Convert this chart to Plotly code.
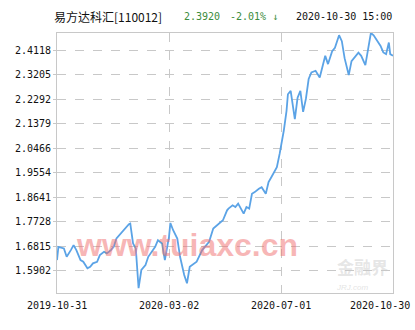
import plotly.graph_objects as go

# trading-day index (0 = 2019-10-31, 243 = 2020-10-30) and NAV values
day_index = [0, 1, 5, 7, 10, 12, 14, 17, 19, 22, 24, 26, 29, 31, 34, 36, 39, 41, 43, 46,
             48, 52, 53, 55, 57, 59, 61, 64, 66, 69, 71, 73, 76, 78, 81, 82, 84, 87, 89, 92,
             94, 96, 99, 101, 105, 107, 110, 113, 117, 120, 123, 124, 127, 129, 131, 135, 137, 139, 141, 143,
             146, 148, 151, 153, 155, 158, 159, 161, 164, 166, 167, 169, 172, 174, 176, 178, 180, 182, 184, 187,
             190, 194, 196, 199, 201, 204, 206, 208, 211, 213, 216, 218, 220, 223, 225, 227, 229, 232, 234, 236,
             238, 240, 241, 243]
nav = [1.6299, 1.6792, 1.6733, 1.6421, 1.6670, 1.6855, 1.6670, 1.6299, 1.6236, 1.5991,
       1.6050, 1.6176, 1.6236, 1.6484, 1.6607, 1.6548, 1.6670, 1.6792, 1.7104, 1.7290,
       1.7412, 1.7635, 1.7661, 1.6919, 1.6733, 1.5249, 1.5928, 1.6113, 1.6421, 1.6670,
       1.6792, 1.7041, 1.6919, 1.6299, 1.7164, 1.7683, 1.7412, 1.7104, 1.6421, 1.5742,
       1.5434, 1.6050, 1.6176, 1.6236, 1.6670, 1.6792, 1.6978, 1.7475, 1.7661, 1.7783,
       1.8154, 1.8218, 1.8340, 1.8277, 1.8403, 1.8032, 1.8277, 1.8218, 1.8774, 1.8834,
       1.8960, 1.9019, 1.8774, 1.9205, 1.9390, 1.9639, 1.9761, 2.0259, 2.1123, 2.1865,
       2.2485, 2.2608, 2.1557, 2.2359, 2.2608, 2.1828, 2.2311, 2.3053, 2.3302, 2.3361,
       2.3109, 2.3918, 2.3610, 2.4092, 2.4222, 2.4686, 2.4463, 2.3832, 2.3201, 2.3721,
       2.3906, 2.4036, 2.3918, 2.3572, 2.4166, 2.4770, 2.4686, 2.4415, 2.4289, 2.4044,
       2.3981, 2.4415, 2.3981, 2.3920]

y_ticks = [1.5902, 1.6815, 1.7728, 1.8641, 1.9554, 2.0466, 2.1379, 2.2292, 2.3205, 2.4118]
x_tick_pos = [0, 81, 162, 243]
x_tick_labels = ["2019-10-31", "2020-03-02", "2020-07-01", "2020-10-30"]

fund_name = "易方达科汇[110012]"
last_nav = "2.3920"
last_change = "-2.01% ↓"
last_time = "2020-10-30 15:00"

mono = "DejaVu Sans Mono"
W, H = 415, 330
L, R, T, B = 57, 22, 33, 37
pw = W - L - R
ph = H - T - B

def px(xp):
    return (xp - L) / pw

def py(yp):
    return (H - B - yp) / ph

fig = go.Figure()
fig.add_trace(go.Scatter(x=day_index, y=nav, mode="lines",
                         line=dict(color="#5ba3e6", width=1.8), hoverinfo="skip"))

fig.update_layout(
    width=W, height=H, margin=dict(l=L, r=R, t=T, b=B),
    paper_bgcolor="white", plot_bgcolor="white", showlegend=False,
    font=dict(family=mono, size=10, color="#111"),
    xaxis=dict(range=[0, 243], tickvals=x_tick_pos[1:3], ticktext=x_tick_labels[1:3],
               showgrid=True, gridcolor="#c8c8c8", griddash="dash", gridwidth=1,
               zeroline=False, showline=True, linecolor="#c8c8c8", mirror=True,
               ticks="", showticklabels=False),
    yaxis=dict(range=[1.507, 2.477], tickvals=y_ticks, ticktext=[f"{v:.4f}" for v in y_ticks],
               showgrid=True, gridcolor="#c8c8c8", griddash="dash", gridwidth=1,
               zeroline=False, showline=True, linecolor="#c8c8c8", mirror=True,
               ticks="outside", ticklen=3, tickcolor="#c8c8c8"),
)

# x tick labels (at the axis positions; the last one kept inside the canvas)
for i, (pos, lab) in enumerate(zip(x_tick_pos, x_tick_labels)):
    last = i == len(x_tick_pos) - 1
    fig.add_annotation(x=pos, xref="x", y=-0.02, yref="paper", text=lab, showarrow=False,
                       yanchor="top", xanchor="right" if last else "center",
                       xshift=19 if last else 0,
                       font=dict(family=mono, size=10, color="#111"))

# header
hy = py(16)
fig.add_annotation(x=px(164), y=hy, xref="paper", yref="paper",
                   text=fund_name, showarrow=False, xanchor="right", yanchor="middle",
                   font=dict(family="Noto Sans CJK SC", size=12, color="#111"))
fig.add_annotation(x=px(182), y=hy, xref="paper", yref="paper",
                   text=last_nav, showarrow=False, xanchor="left", yanchor="middle",
                   font=dict(family=mono, size=10, color="#3c8c3c"))
fig.add_annotation(x=px(228), y=hy, xref="paper", yref="paper",
                   text=last_change, showarrow=False, xanchor="left", yanchor="middle",
                   font=dict(family=mono, size=10, color="#3c8c3c"))
fig.add_annotation(x=px(394), y=hy, xref="paper", yref="paper",
                   text=last_time, showarrow=False, xanchor="right", yanchor="middle",
                   font=dict(family=mono, size=10, color="#111"))

# watermarks
fig.add_annotation(x=px(187), y=py(245), xref="paper", yref="paper",
                   text="<b>www.tuiaxc.cn</b>", showarrow=False, xanchor="center", yanchor="middle",
                   font=dict(family="Liberation Sans", size=32, color="rgba(240,110,110,0.5)"))
fig.add_annotation(x=px(362), y=py(266), xref="paper", yref="paper",
                   text="<b>金融界</b>", showarrow=False, xanchor="center", yanchor="middle",
                   font=dict(family="Noto Sans CJK SC", size=17, color="rgba(200,200,200,0.45)"))
fig.add_annotation(x=px(352), y=py(287), xref="paper", yref="paper",
                   text="<i>JRJ.com</i>", showarrow=False, xanchor="center", yanchor="middle",
                   font=dict(family="Liberation Sans", size=8, color="rgba(200,200,200,0.5)"))

fig.write_html("out.html")
